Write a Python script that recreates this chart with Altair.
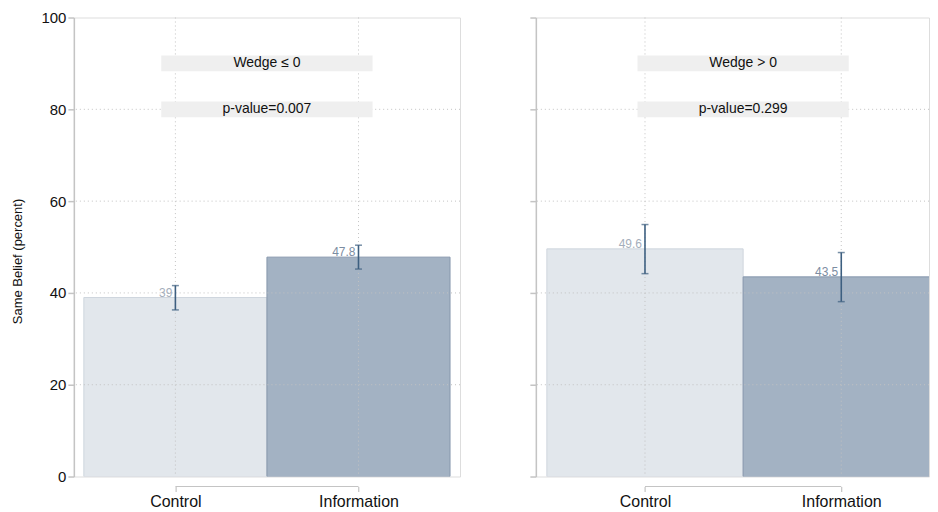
import altair as alt
import pandas as pd

groups = ["Control", "Information"]
panel_titles = ["Wedge ≤ 0", "Wedge > 0"]
panel_pvalues = ["p-value=0.007", "p-value=0.299"]

left_means = [39.0, 47.8]
left_lo = [36.3, 45.2]
left_hi = [41.6, 50.4]
left_labels = ["39", "47.8"]

right_means = [49.6, 43.5]
right_lo = [44.2, 38.1]
right_hi = [54.9, 48.8]
right_labels = ["49.6", "43.5"]

y_ticks = [0, 20, 40, 60, 80, 100]
grid_y = [20, 40, 60, 80]

FONT = "Liberation Sans"
H = 460
fill_colors = ["#e2e7ec", "#a3b2c3"]
stroke_colors = ["#cfd6de", "#8798ad"]
label_colors = ["#a4aebb", "#7c8da2"]
ERR = "#3d5f80"
GRID = "#c2c2c2"
AX = "#c4c4c4"


def panel(means, lo, hi, labels, title, pval, width, xdomain, box_half, first):
    pos = list(range(1, len(groups) + 1))
    df = pd.DataFrame({
        "group": groups,
        "pos": pos,
        "x0": [p - 0.5 for p in pos],
        "x1": [p + 0.5 for p in pos],
        "mean": means,
        "lo": lo,
        "hi": hi,
        "label": labels,
    })
    gy = pd.DataFrame({"v": grid_y})
    info = pd.DataFrame({"title": [title], "pval": [pval]})

    xs = alt.Scale(domain=xdomain, nice=False, zero=False)
    ys = alt.Scale(domain=[0, 100], nice=False, zero=True)
    label_expr = "[" + ",".join("'" + g + "'" for g in groups) + "][datum.value-1]"
    xaxis = alt.Axis(values=pos, labelExpr=label_expr, domain=False, ticks=True,
                     tickSize=5, tickColor=AX, tickWidth=1.2, offset=10, grid=False,
                     title=None, labelFontSize=16, labelColor="#111111",
                     labelPadding=2, labelFont=FONT)
    if first:
        yaxis = alt.Axis(values=y_ticks, grid=False, domainColor=AX, domainWidth=1.5,
                         tickColor=AX, tickSize=6, tickWidth=1.5, labelFontSize=15,
                         labelPadding=2, labelColor="#111111", labelFont=FONT,
                         title="Same Belief (percent)", titleFontSize=13,
                         titleFontWeight="normal", titleFont=FONT, titleColor="#111111",
                         titlePadding=16, titleY=244)
    else:
        yaxis = alt.Axis(values=y_ticks, grid=False, domainColor=AX, domainWidth=1.5,
                         tickColor=AX, tickSize=6, tickWidth=1.5, labels=False,
                         title=None)

    X = lambda f: alt.X(f, scale=xs, axis=xaxis)
    Y = lambda f: alt.Y(f, scale=ys, axis=yaxis)

    base = alt.Chart(df)
    ib = alt.Chart(info)
    bars = base.mark_rect(strokeWidth=1, clip=True).encode(
        x=X("x0:Q"), x2="x1:Q",
        y=Y("mean:Q"), y2=alt.Y2(datum=0),
        fill=alt.Fill("group:N", scale=alt.Scale(domain=groups, range=fill_colors), legend=None),
        stroke=alt.Stroke("group:N", scale=alt.Scale(domain=groups, range=stroke_colors), legend=None),
    )
    hgrid = alt.Chart(gy).mark_rule(color=GRID, strokeDash=[1, 3], strokeWidth=1).encode(
        y=Y("v:Q"))
    vgrid = base.mark_rule(color=GRID, strokeDash=[1, 3], strokeWidth=1).encode(
        x=X("pos:Q"))
    box1 = ib.mark_rect(color="#efefef").encode(
        x=alt.X(datum=1.5 - box_half, scale=xs, axis=xaxis), x2=alt.X2(datum=1.5 + box_half),
        y=alt.Y(datum=91.7, scale=ys, axis=yaxis), y2=alt.Y2(datum=88.3))
    box2 = ib.mark_rect(color="#efefef").encode(
        x=alt.X(datum=1.5 - box_half, scale=xs, axis=xaxis), x2=alt.X2(datum=1.5 + box_half),
        y=alt.Y(datum=81.7, scale=ys, axis=yaxis), y2=alt.Y2(datum=78.3))
    t1 = ib.mark_text(fontSize=14, font=FONT, fontWeight="normal", color="#111111",
                      baseline="middle").encode(
        x=alt.X(datum=1.5, scale=xs, axis=xaxis), y=alt.Y(datum=90, scale=ys, axis=yaxis),
        text="title:N")
    t2 = ib.mark_text(fontSize=14, font=FONT, fontWeight="normal", color="#111111",
                      baseline="middle").encode(
        x=alt.X(datum=1.5, scale=xs, axis=xaxis), y=alt.Y(datum=80, scale=ys, axis=yaxis),
        text="pval:N")
    bracket = ib.mark_rule(color=AX, strokeWidth=1.2).encode(
        x=alt.X(datum=pos[0], scale=xs, axis=xaxis), x2=alt.X2(datum=pos[-1]),
        y=alt.value(H + 10))
    err = base.mark_rule(color=ERR, strokeWidth=1.6).encode(
        x=X("pos:Q"), y=Y("lo:Q"), y2="hi:Q")
    cap_lo = base.mark_tick(color=ERR, orient="horizontal", size=7, thickness=1.5).encode(
        x=X("pos:Q"), y=Y("lo:Q"))
    cap_hi = base.mark_tick(color=ERR, orient="horizontal", size=7, thickness=1.5).encode(
        x=X("pos:Q"), y=Y("hi:Q"))
    vlabels = base.mark_text(align="right", baseline="alphabetic", dx=-3, dy=-1,
                             fontSize=12, font=FONT).encode(
        x=X("pos:Q"), y=Y("mean:Q"), text="label:N",
        color=alt.Color("group:N", scale=alt.Scale(domain=groups, range=label_colors), legend=None))

    return alt.layer(bars, hgrid, vgrid, box1, box2, t1, t2, bracket, err, cap_lo, cap_hi,
                     vlabels).properties(width=width, height=H)


left = panel(left_means, left_lo, left_hi, left_labels, panel_titles[0], panel_pvalues[0],
             387, [0.4455, 2.5545], 0.577, True)
right = panel(right_means, right_lo, right_hi, right_labels, panel_titles[1], panel_pvalues[1],
              394, [0.444, 2.447], 0.538, False)

chart = alt.hconcat(left, right, spacing=67).resolve_scale(
    x="independent", y="independent", fill="independent", stroke="independent",
    color="independent").properties(
    padding={"left": 3, "top": 1, "right": 0, "bottom": 0}
).configure_view(stroke=None).configure(font=FONT)

chart.save("out.html", embed_options={"renderer": "svg", "actions": False})
